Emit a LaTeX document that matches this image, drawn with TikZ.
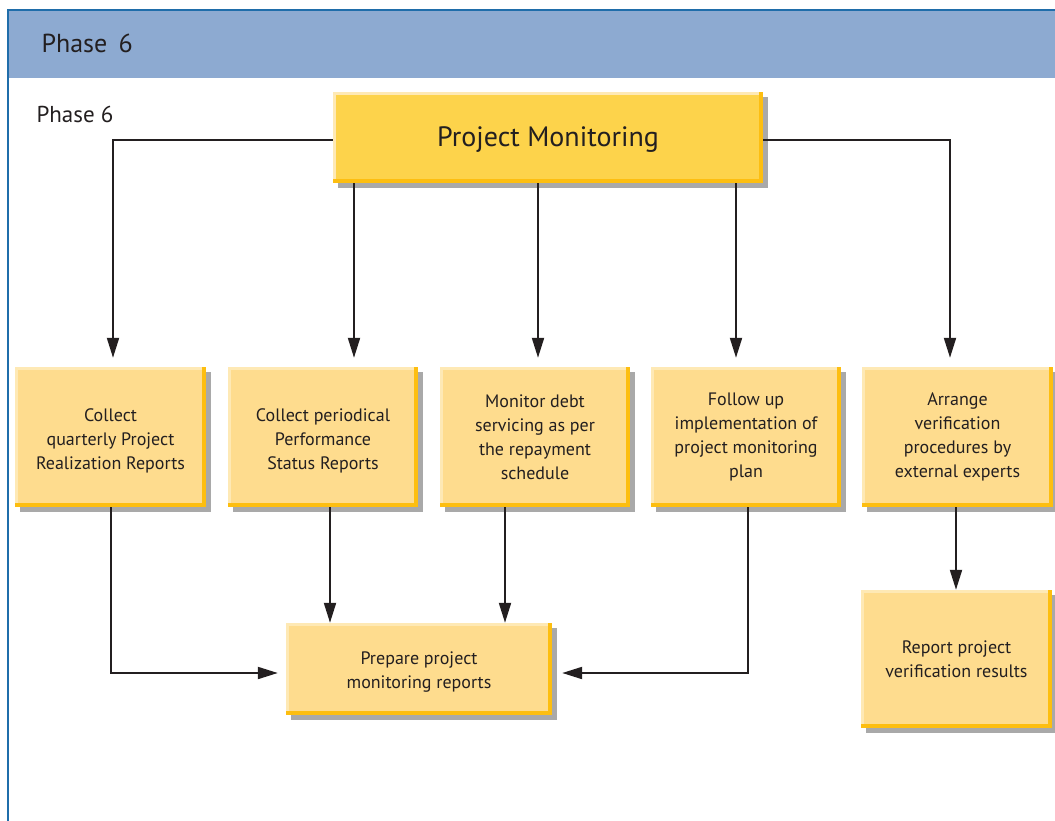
\documentclass[tikz,border=0pt]{standalone}
\usepackage{fontspec}
\setmainfont{PT Sans}
\usetikzlibrary{arrows.meta}
\definecolor{bandblue}{HTML}{8DAAD1}
\definecolor{frameblue}{HTML}{1F6DAA}
\definecolor{topfill}{HTML}{FDD34B}
\definecolor{boxfill}{HTML}{FEDC8E}
\definecolor{edgedark}{HTML}{FDBE10}
\definecolor{edgelight}{HTML}{FEE9B5}
\definecolor{shadowgray}{HTML}{A9A9A9}
\definecolor{ink}{HTML}{231F20}
\tikzset{
  card/.style={fill=#1, inner sep=0pt, align=center, text=ink,
    preaction={fill=shadowgray, transform canvas={shift={(5pt,-5pt)}}}},
  smallcard/.style={card=boxfill, minimum width=191pt, minimum height=140pt, font=\fontsize{18}{24}\selectfont},
  arr/.style={draw=ink, line width=2pt, -{Triangle[length=20pt,width=12pt]}},
}
\newcommand{\lowtext}[2][3pt]{\raisebox{-#1}[\height][\depth]{\begin{tabular}{@{}c@{}}#2\end{tabular}}}
\newcommand{\cardedges}[1]{%
  \fill[edgelight] (#1.north west) rectangle ([xshift=3pt]#1.south west);
  \fill[edgelight] (#1.north west) rectangle ([yshift=-3pt]#1.north east);
  \fill[edgedark] ([xshift=-4pt]#1.north east) rectangle (#1.south east);
  \fill[edgedark] ([yshift=4pt]#1.south west) rectangle (#1.south east);
}
\begin{document}
\begin{tikzpicture}[x=1pt,y=-1pt]
\useasboundingbox (0,0) rectangle (1055,821);
% frame and header band
\fill[bandblue] (8,10) rectangle (1055,78);
\draw[frameblue, line width=2.5pt] (8,821) -- (8,10) -- (1055,10);
\node[anchor=west, text=ink, font=\fontsize{26}{28}\selectfont] (hdr) at (38,43) {Phase\, 6};
\node[anchor=west, text=ink, font=\fontsize{23}{26}\selectfont] (ph) at (33,114) {Phase 6};
% main box
\node[card=topfill, minimum width=430pt, minimum height=91pt, font=\fontsize{28}{32}\selectfont] (top) at (548,137.5) {\lowtext{Project Monitoring}};
% row boxes
\node[smallcard] (a) at (110.5,437) {\lowtext[4pt]{Collect\\quarterly Project\\Realization Reports}};
\node[smallcard, minimum width=190pt] (b) at (323,437) {\lowtext[4pt]{Collect periodical\\Performance\\Status Reports}};
\node[smallcard, minimum width=190pt] (c) at (535,437) {Monitor debt\\servicing as per\\the repayment\\schedule};
\node[smallcard, minimum width=190pt] (d) at (746,437) {Follow up\\implementation of\\project monitoring\\plan};
\node[smallcard] (e) at (957.5,437) {Arrange\\verification\\procedures by\\external experts};
\node[smallcard, minimum width=266pt, minimum height=92pt] (p) at (419,669) {\lowtext[3pt]{Prepare project\\monitoring reports}};
\node[smallcard, minimum height=138pt] (r) at (956.5,659) {Report project\\verification results};
\foreach \n in {top,a,b,c,d,e,p,r}{\cardedges{\n}}
% connectors from main box
\draw[arr, shorten >=9pt] ([yshift=-2.5pt]top.west) -| ([xshift=2.5pt]a.north);
\draw[arr, shorten >=9pt] ([yshift=-2.5pt]top.east) -| ([xshift=-7.5pt]e.north);
\draw[arr, shorten >=9pt] ([xshift=-194pt]top.south) -- ([xshift=31pt]b.north);
\draw[arr, shorten >=9pt] ([xshift=-10pt]top.south) -- ([xshift=3pt]c.north);
\draw[arr, shorten >=9pt] ([xshift=188pt]top.south) -- ([xshift=-10pt]d.north);
% connectors to report box
\draw[arr, shorten >=8pt] ([xshift=0.5pt]a.south) |- ([yshift=-4pt]p.west);
\draw[arr, shorten >=10pt] ([xshift=2pt]d.south) |- ([yshift=-4pt]p.east);
\draw[arr] ([xshift=7pt]b.south) -- ([xshift=-89pt]p.north);
\draw[arr] ([xshift=-30pt]c.south) -- ([xshift=86pt]p.north);
\draw[arr] ([xshift=-1.5pt]e.south) -- ([xshift=-0.5pt]r.north);
\end{tikzpicture}
\end{document}
